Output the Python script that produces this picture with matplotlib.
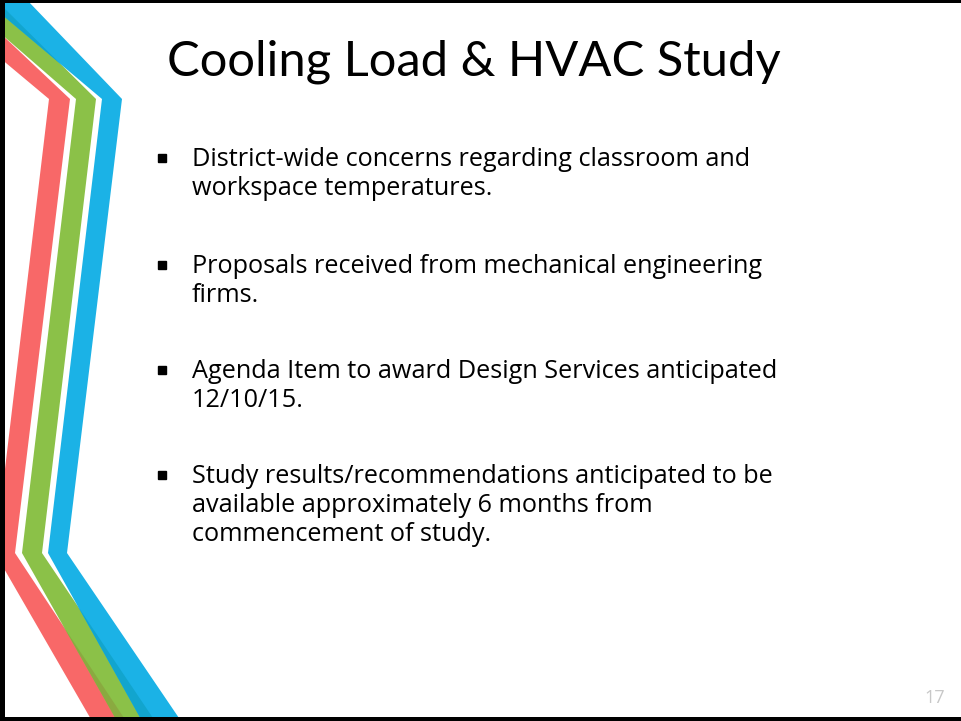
import matplotlib
matplotlib.use("Agg")
import matplotlib.pyplot as plt
from matplotlib.patches import Polygon, Rectangle

plt.rcParams['font.family'] = ['Open Sans', 'DejaVu Sans']

# Slide content
titulo = "Cooling Load & HVAC Study"
viñetas = [
    ["District-wide concerns regarding classroom and", "workspace temperatures."],
    ["Proposals received from mechanical engineering", "firms."],
    ["Agenda Item to award Design Services anticipated", "12/10/15."],
    ["Study results/recommendations anticipated to be",
     "available approximately 6 months from",
     "commencement of study."],
]
numero_pagina = "17"

# Decorative stripes (pixel geometry of the slide, y downwards)
franja_roja = [(0, 33), (70, 99), (15, 553), (126, 721), (92, 721), (-5, 553), (49, 99), (0, 58)]
franja_verde = [(0, 4), (96, 99), (42, 553), (155, 721), (117, 721), (22, 553), (76, 99), (0, 33)]
franja_azul = [(0, 0), (27, 0), (122, 99), (67, 553), (181, 721), (142, 721), (48, 553), (102, 99), (0, 13)]

ANCHO, ALTO = 961, 721
fig = plt.figure(figsize=(ANCHO / 100, ALTO / 100), dpi=100)
ax = fig.add_axes([0, 0, 1, 1])
ax.set_xlim(0, ANCHO)
ax.set_ylim(ALTO, 0)
ax.axis('off')
renderer = fig.canvas.get_renderer()


def ajustar_ancho(t, ancho_px):
    # scale the font so the text spans the same width as on the slide
    w = t.get_window_extent(renderer=renderer).width
    t.set_fontsize(t.get_fontsize() * ancho_px / w)


roja = ax.add_patch(Polygon(franja_roja, closed=True, facecolor='#F86868', edgecolor='none'))
verde = ax.add_patch(Polygon(franja_verde, closed=True, facecolor='#8BC148', edgecolor='none'))
azul = ax.add_patch(Polygon(franja_azul, closed=True, facecolor='#1BB2E6', edgecolor='none'))

# Darker overlaps where stripes cross
solape_rv = ax.add_patch(Polygon(franja_verde, closed=True, facecolor='#8AAA40', edgecolor='none'))
solape_rv.set_clip_path(roja)
solape_va = ax.add_patch(Polygon(franja_azul, closed=True, facecolor='#12A5CE', edgecolor='none'))
solape_va.set_clip_path(verde)

# Black frame (left, top, bottom)
ax.add_patch(Rectangle((0, 0), 5, ALTO, facecolor='black', edgecolor='none'))
ax.add_patch(Rectangle((0, 0), ANCHO, 3, facecolor='black', edgecolor='none'))
ax.add_patch(Rectangle((0, ALTO - 4), ANCHO, 4, facecolor='black', edgecolor='none'))

# Title
t = ax.text(167, 76, titulo, fontsize=40, color='black', va='baseline', ha='left',
            family=['Lato', 'DejaVu Sans'])
ajustar_ancho(t, 613)

# Bullets
inicio_parrafo = [166, 273, 378, 483]
interlineado = 29
prueba = ax.text(0, 0, viñetas[0][0], fontsize=17.5)
ajustar_ancho(prueba, 561)
tam_cuerpo = prueba.get_fontsize()
prueba.remove()

for y0, lineas in zip(inicio_parrafo, viñetas):
    ax.plot([162], [y0 - 8.5], marker='s', markersize=6, color='black', linestyle='none')
    for i, linea in enumerate(lineas):
        ax.text(192, y0 + i * interlineado, linea, fontsize=tam_cuerpo, color='black',
                va='baseline', ha='left')

ax.text(945, 703, numero_pagina, fontsize=13, color='#C8C8C8', va='baseline', ha='right')

fig.savefig('out.png', dpi=100)
